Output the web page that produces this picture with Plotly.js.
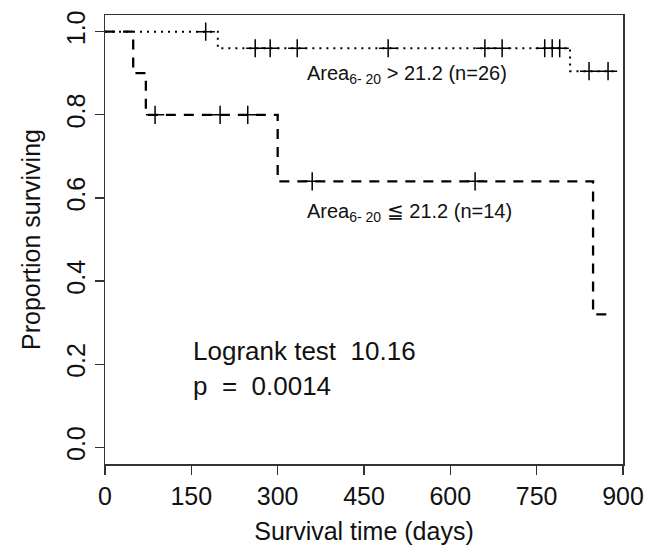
<!DOCTYPE html>
<html>
<head>
<meta charset="utf-8">
<script src="https://cdn.plot.ly/plotly-3.0.1.min.js"></script>
<style>html,body{margin:0;padding:0;background:#fff;}#chart{width:659px;height:551px;}</style>
</head>
<body>
<div id="chart"></div>
<script>
// High group: Area6-20 > 21.2 (n=26), dotted
const highEventTimes = [0, 196, 808];
const highSurv = [1.0, 0.96, 0.905];
const highEnd = 888;
const highCensorTimes = [175, 261, 287, 334, 492, 660, 690, 764, 777, 790, 841, 874];

// Low group: Area6-20 <= 21.2 (n=14), dashed
const lowEventTimes = [0, 49, 71, 300, 848];
const lowSurv = [1.0, 0.9, 0.8, 0.64, 0.32];
const lowEnd = 883;
const lowCensorTimes = [87, 200, 248, 360, 643];

const xTicks = [0, 150, 300, 450, 600, 750, 900];
const yTicks = [0, 0.2, 0.4, 0.6, 0.8, 1.0];

function stepAt(times, surv, t) {
  let s = surv[0];
  for (let i = 0; i < times.length; i++) { if (times[i] <= t) s = surv[i]; }
  return s;
}
function stepLine(times, surv, end) {
  return { x: times.concat([end]), y: surv.concat([surv[surv.length - 1]]) };
}

const hl = stepLine(highEventTimes, highSurv, highEnd);
const ll = stepLine(lowEventTimes, lowSurv, lowEnd);
const font = "Liberation Sans, Arial, Helvetica, sans-serif";
const ink = '#111';

const traces = [
  { x: hl.x, y: hl.y, mode: 'lines', line: { shape: 'hv', color: '#000', width: 2, dash: '2px,5px' }, hoverinfo: 'skip' },
  { x: ll.x, y: ll.y, mode: 'lines', line: { shape: 'hv', color: '#000', width: 2.3, dash: '10px,8px' }, hoverinfo: 'skip' },
  { x: highCensorTimes, y: highCensorTimes.map(t => stepAt(highEventTimes, highSurv, t)), mode: 'markers',
    marker: { symbol: 'cross-thin-open', size: 13, color: '#000', line: { color: '#000', width: 1.5 } } },
  { x: lowCensorTimes, y: lowCensorTimes.map(t => stepAt(lowEventTimes, lowSurv, t)), mode: 'markers',
    marker: { symbol: 'cross-thin-open', size: 13, color: '#000', line: { color: '#000', width: 1.5 } } }
];

const layout = {
  width: 659, height: 551,
  margin: { l: 105, r: 36, t: 15, b: 87 },
  showlegend: false,
  paper_bgcolor: '#fff', plot_bgcolor: '#fff',
  font: { family: font, color: ink },
  xaxis: {
    range: [0, 900], tickvals: xTicks, ticktext: xTicks.map(String),
    ticks: 'outside', ticklen: 9, tickwidth: 1.3, tickcolor: '#333',
    showline: true, mirror: true, linecolor: '#333', linewidth: 1.5,
    showgrid: false, zeroline: false,
    tickfont: { size: 25, family: font, color: ink },
    title: { text: 'Survival time (days)', font: { size: 25, family: font, color: ink }, standoff: 14 }
  },
  yaxis: {
    range: [-0.04, 1.04], tickvals: yTicks, ticktext: yTicks.map(v => v.toFixed(1)),
    tickangle: -90,
    ticks: 'outside', ticklen: 9, tickwidth: 1.3, tickcolor: '#333',
    showline: true, mirror: true, linecolor: '#333', linewidth: 1.5,
    showgrid: false, zeroline: false,
    tickfont: { size: 25, family: font, color: ink },
    title: { text: 'Proportion surviving', font: { size: 25, family: font, color: ink }, standoff: 14 }
  },
  annotations: [
    { x: 347, y: 0.896, xref: 'x', yref: 'y', xanchor: 'left', yanchor: 'middle', showarrow: false,
      text: 'Area<sub>6- 20</sub> > 21.2 (n=26)', font: { size: 20, family: font, color: ink } },
    { x: 347, y: 0.564, xref: 'x', yref: 'y', xanchor: 'left', yanchor: 'middle', showarrow: false,
      text: 'Area<sub>6- 20</sub> \u2266 21.2 (n=14)', font: { size: 20, family: font, color: ink } },
    { x: 150, y: 0.232, xref: 'x', yref: 'y', xanchor: 'left', yanchor: 'middle', showarrow: false,
      text: 'Logrank test  10.16', font: { size: 26, family: font, color: ink } },
    { x: 150, y: 0.147, xref: 'x', yref: 'y', xanchor: 'left', yanchor: 'middle', showarrow: false,
      text: 'p  =  0.0014', font: { size: 26, family: font, color: ink } }
  ]
};

Plotly.newPlot('chart', traces, layout, { displayModeBar: false, staticPlot: true });
</script>
</body>
</html>
